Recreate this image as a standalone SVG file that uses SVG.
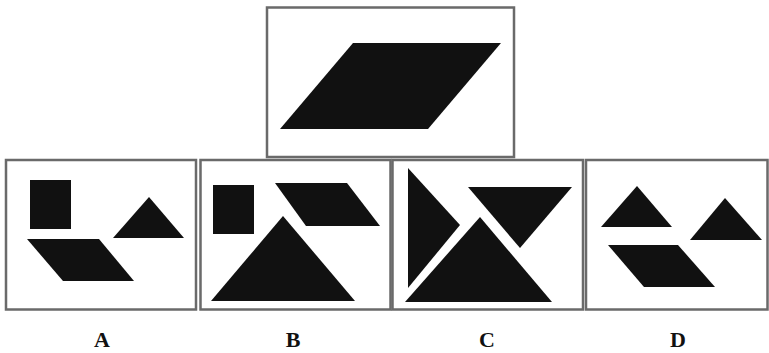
<svg xmlns="http://www.w3.org/2000/svg" width="769" height="353" viewBox="0 0 769 353">
<style>
.box{fill:#fff;stroke:#6a6a6a;stroke-width:2.5}
.s{fill:#111}
.lbl{font-family:"Liberation Serif",serif;font-weight:bold;font-size:22px;fill:#111;text-anchor:middle}
</style>
<rect width="769" height="353" fill="#fff"/>
<g id="question">
<rect class="box" x="267" y="7.5" width="247" height="149.5"/>
<polygon class="s" points="353,43 501,43 428,129 280,129"/>
</g>
<g id="optionA">
<rect class="box" x="6" y="160" width="190" height="149.5"/>
<rect class="s" x="30" y="180" width="41" height="49"/>
<polygon class="s" points="149,197 184,238 113,238"/>
<polygon class="s" points="27,239 99,239 134,281 63,281"/>
<text class="lbl" x="102" y="347">A</text>
</g>
<g id="optionB">
<rect class="box" x="200.5" y="160" width="190" height="149.5"/>
<rect class="s" x="213" y="185" width="41" height="49"/>
<polygon class="s" points="275,183 347,183 380,226 306,226"/>
<polygon class="s" points="283,216 355,301 211,301"/>
<text class="lbl" x="293" y="347">B</text>
</g>
<g id="optionC">
<rect class="box" x="392.5" y="160" width="190.5" height="149.5"/>
<polygon class="s" points="408,168 460,225 408,288"/>
<polygon class="s" points="468,187 572,187 520,248"/>
<polygon class="s" points="480,217 552,302 405,302"/>
<text class="lbl" x="487" y="347">C</text>
</g>
<g id="optionD">
<rect class="box" x="586" y="160" width="181.5" height="149.5"/>
<polygon class="s" points="637,186 672,227 601,227"/>
<polygon class="s" points="725,198 762,240 690,240"/>
<polygon class="s" points="608,245 678,245 715,287 644,287"/>
<text class="lbl" x="678" y="347">D</text>
</g>
<g id="connectors"/>
</svg>
